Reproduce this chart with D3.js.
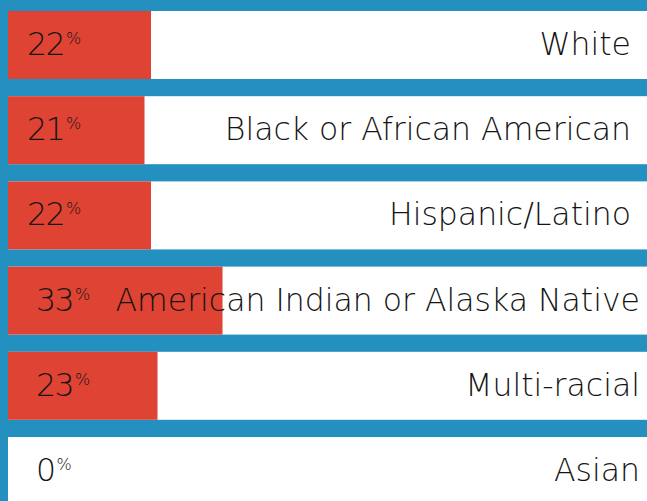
<!DOCTYPE html>
<html><head><meta charset="utf-8">
<script src="https://cdn.jsdelivr.net/npm/d3@7"></script>
<style>html,body{margin:0;padding:0;background:#2490c0;overflow:hidden}</style>
</head><body>
<svg id="chart" width="647" height="501"></svg>
<script>
const categories = ["White","Black or African American","Hispanic/Latino","American Indian or Alaska Native","Multi-racial","Asian"];
const values = [22,21,22,33,23,0];

const svg = d3.select("#chart");
svg.append("rect").attr("width",647).attr("height",501).attr("fill","#2490c0");

const x = d3.scaleLinear().domain([0,100]).range([8,658]);
const step = 85.2, bh = 68;
const y = d3.scaleBand().domain(categories).range([11, 11 + step*5 + bh]).paddingInner((step-bh)/step).paddingOuter(0);

const font = "'DejaVu Sans', sans-serif";
const g = svg.selectAll("g.row").data(categories).join("g").attr("class","row");

g.append("rect").attr("x",x(0)).attr("y",d=>y(d)).attr("width",x(100)-x(0)).attr("height",y.bandwidth()).attr("fill","#ffffff");
g.append("rect").attr("x",x(0)).attr("y",d=>y(d)).attr("width",(d,i)=>x(values[i])-x(0)).attr("height",y.bandwidth()).attr("fill","#df4333");

const pct = g.append("text")
  .attr("x",(d,i)=> i<3 ? 27 : 36)
  .attr("y",d=>y(d)+44)
  .attr("font-family",font).attr("font-weight",200).attr("font-size",31.5).attr("fill","#141414");
pct.append("tspan").attr("letter-spacing",-1.5).text((d,i)=>values[i]);
pct.append("tspan").attr("font-size",16).attr("dy",-11).attr("dx",2).text("%");

g.append("text")
  .attr("x",(d,i)=> i<3 ? 631 : 640)
  .attr("y",d=>y(d)+44)
  .attr("text-anchor","end")
  .attr("font-family",font).attr("font-weight",200).attr("font-size",31.5).attr("fill","#141414")
  .text(d=>d);
</script>
</body></html>
